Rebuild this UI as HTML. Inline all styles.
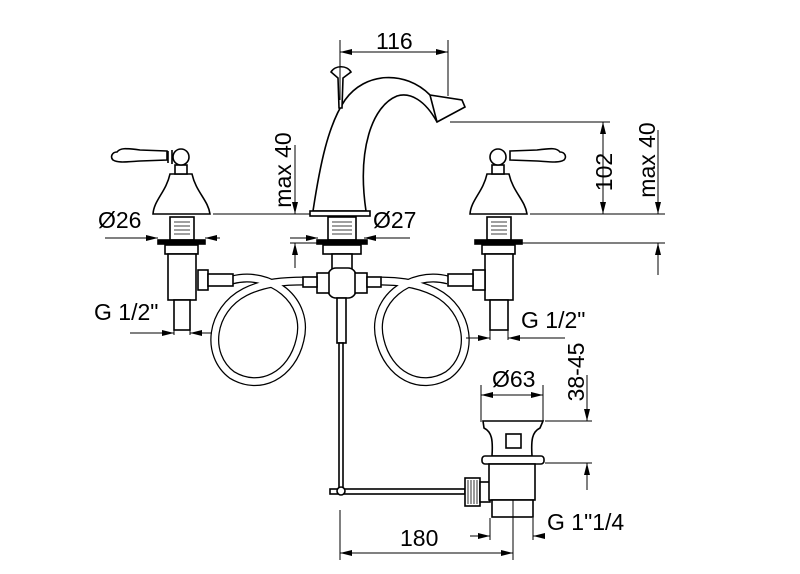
<!DOCTYPE html>
<html><head><style>html,body{margin:0;padding:0;background:#fff}svg{display:block}text{font-family:"Liberation Sans",sans-serif;font-size:23px;fill:#000}</style></head><body>
<svg width="800" height="574" viewBox="0 0 800 574" xmlns="http://www.w3.org/2000/svg">
<defs>
<marker id="a" viewBox="0 0 12 6" refX="12" refY="3" markerWidth="12" markerHeight="6" orient="auto-start-reverse" markerUnits="userSpaceOnUse"><path d="M0,0L12,3L0,6z" fill="#000"/></marker>
</defs>
<g fill="none" stroke="#000" stroke-width="1">
<path d="M232,280 C270,270 310,300 300,340 C292,375 260,392 232,375 C205,355 210,310 245,292 C265,282 285,281 305,281" stroke-width="9"/>
<path d="M232,280 C270,270 310,300 300,340 C292,375 260,392 232,375 C205,355 210,310 245,292 C265,282 285,281 305,281" stroke="#fff" stroke-width="6.5"/>
<path d="M448,280 C410,270 370,300 380,340 C388,375 420,392 448,375 C475,355 470,310 435,292 C415,282 395,281 375,281" stroke-width="9"/>
<path d="M448,280 C410,270 370,300 380,340 C388,375 420,392 448,375 C475,355 470,310 435,292 C415,282 395,281 375,281" stroke="#fff" stroke-width="6.5"/>
</g>
<g fill="#fff" stroke="#000" stroke-width="1.6">
<path d="M153,214 C154,200 166,192 170,174 L192,174 C196,192 208,200 210,214 Z"/>
<rect x="175" y="165" width="12" height="9"/>
<circle cx="181" cy="157" r="8"/>
<path d="M172,150 L172,164 M168,151 L168,163"/>
<path d="M167,151 L140,150 C125,148 120,148 117,152 C112,152 110,157 113,160 C118,163 125,162 140,161 L167,160Z"/>
<rect x="170" y="217" width="24" height="23"/>
<rect x="158" y="240" width="47" height="4" fill="#000"/>
<rect x="165" y="245" width="33" height="9"/>
<rect x="168" y="254" width="28" height="46"/>
<rect x="174" y="300" width="16" height="30"/>
<rect x="198" y="270" width="10" height="20"/>
<rect x="208" y="274" width="25" height="12"/>
<path d="M470,214 C471,200 483,192 487,174 L509,174 C513,192 525,200 527,214 Z"/>
<rect x="492" y="165" width="12" height="9"/>
<circle cx="498" cy="157" r="8"/>
<path d="M510,151 L537,150 C552,148 557,148 560,152 C565,152 567,157 564,160 C559,163 552,162 537,161 L510,160Z"/>
<rect x="487" y="217" width="24" height="23"/>
<rect x="475" y="240" width="47" height="4" fill="#000"/>
<rect x="482" y="245" width="33" height="9"/>
<rect x="485" y="254" width="28" height="46"/>
<rect x="490" y="300" width="18" height="30"/>
<rect x="473" y="270" width="12" height="20"/>
<rect x="448" y="274" width="25" height="12"/>
<path d="M313,211 C320,165 328,125 345,100 C365,72 405,70 430,95 L462,100 L465,107 L437,122 C425,100 410,92 397,96 C372,106 357,150 366,211 Z"/>
<path d="M430,95 L437,122"/>
<path d="M331,72 C335,65 347,65 351,72 L343,78 L342,108 L339,108 L338,78 Z"/>
<rect x="310" y="211" width="60" height="5"/>
<rect x="328" y="217" width="28" height="23"/>
<rect x="317" y="240" width="50" height="4" fill="#000"/>
<rect x="323" y="245" width="38" height="9"/>
<rect x="332" y="254" width="20" height="15"/>
<rect x="328" y="268" width="28" height="30" rx="8"/>
<rect x="317" y="273" width="12" height="20"/>
<rect x="355" y="273" width="12" height="20"/>
<rect x="303" y="277" width="14" height="10"/>
<rect x="367" y="277" width="14" height="10"/>
<rect x="337" y="298" width="9" height="45"/>
<rect x="339" y="343" width="4" height="148"/>
<rect x="330" y="489" width="135" height="5"/>
<circle cx="341" cy="491" r="4"/>
<rect x="465" y="478" width="15" height="28"/>
<rect x="480" y="482" width="10" height="20"/>
<path d="M483,421 L543,421 L540,428 C532,432 531,440 532,456 L492,456 C493,440 492,432 484,428 Z"/>
<rect x="506" y="434" width="15" height="14"/>
<rect x="482" y="456" width="62" height="8" rx="3"/>
<rect x="489" y="464" width="46" height="36"/>
<rect x="492" y="500" width="41" height="17"/>
</g>
<g stroke="#000" stroke-width="0.8">
<path d="M174,222H190M174,226H190M174,230H190M174,234H190M332,222H352M332,226H352M332,230H352M332,234H352M491,222H507M491,226H507M491,230H507M491,234H507"/>
<path d="M468,480V504M471,480V504M474,480V504M477,480V504"/>
</g>
<g fill="none" stroke="#000" stroke-width="1">
<path d="M340,40V100M448,40V96"/>
<path d="M340,52H448" marker-start="url(#a)" marker-end="url(#a)"/>
<path d="M450,122H610"/>
<path d="M603,122V214" marker-start="url(#a)" marker-end="url(#a)"/>
<path d="M530,214H665M520,243H665"/>
<path d="M658,130V214" marker-end="url(#a)"/>
<path d="M658,275V243" marker-end="url(#a)"/>
<path d="M213,214H310"/>
<path d="M295,145V214" marker-end="url(#a)"/>
<path d="M295,268V243" marker-end="url(#a)"/>
<path d="M290,243H330"/>
<path d="M105,238H158" marker-end="url(#a)"/>
<path d="M220,238H205" marker-end="url(#a)"/>
<path d="M290,238H318" marker-end="url(#a)"/>
<path d="M410,238H364" marker-end="url(#a)"/>
<path d="M174,300V335M190,300V335"/>
<path d="M130,333H174" marker-end="url(#a)"/>
<path d="M212,333H190" marker-end="url(#a)"/>
<path d="M490,330V340M508,330V340"/>
<path d="M466,338H490" marker-end="url(#a)"/>
<path d="M565,338H508" marker-end="url(#a)"/>
<path d="M481,385V422M543,385V422"/>
<path d="M481,395H543" marker-start="url(#a)" marker-end="url(#a)"/>
<path d="M545,421H592M545,463H592"/>
<path d="M587,375V421" marker-end="url(#a)"/>
<path d="M587,490V463" marker-end="url(#a)"/>
<path d="M490,518V540M533,518V540"/>
<path d="M470,536H490" marker-end="url(#a)"/>
<path d="M545,536H533" marker-end="url(#a)"/>
<path d="M340,510V560M513,500V560"/>
<path d="M340,553H513" marker-start="url(#a)" marker-end="url(#a)"/>
</g>
<text x="376" y="49">116</text>
<text transform="translate(612,172) rotate(-90)" text-anchor="middle">102</text>
<text transform="translate(655,160) rotate(-90)" text-anchor="middle">max 40</text>
<text transform="translate(291,170) rotate(-90)" text-anchor="middle">max 40</text>
<text x="98" y="228">Ø26</text>
<text x="373" y="228">Ø27</text>
<text x="94" y="320">G 1/2"</text>
<text x="521" y="328">G 1/2"</text>
<text x="492" y="387">Ø63</text>
<text transform="translate(584,372) rotate(-90)" text-anchor="middle">38-45</text>
<text x="547" y="530">G 1"1/4</text>
<text x="400" y="546">180</text>
</svg>
</body></html>
